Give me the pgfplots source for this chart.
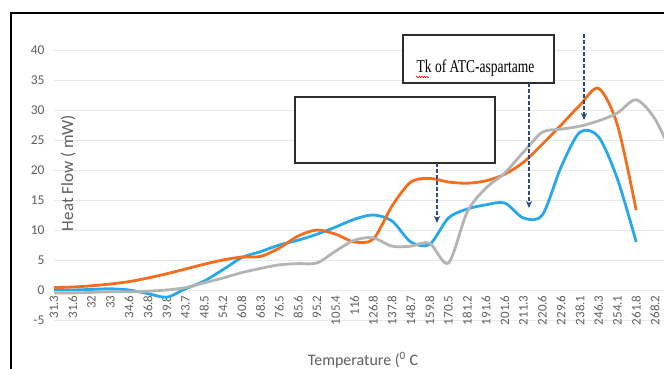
\documentclass[border=0pt]{standalone}
\usepackage{pgfplots}
\pgfplotsset{compat=1.18}
\usepackage{fontspec}
\setmainfont{Carlito}
\newfontfamily\timesfont{Liberation Serif}
\usepackage{graphicx}
\usetikzlibrary{arrows.meta,decorations.pathmorphing}

\definecolor{cblue}{RGB}{38,168,235}
\definecolor{corange}{RGB}{242,110,30}
\definecolor{cgray}{RGB}{180,180,180}
\definecolor{gridgray}{RGB}{232,232,232}
\definecolor{labelgray}{RGB}{95,95,95}
\definecolor{arrowblue}{RGB}{47,75,124}
\definecolor{boxedge}{RGB}{45,45,45}

\begin{document}
\begin{tikzpicture}[x=1pt,y=1pt]
\path[use as bounding box] (0,0) rectangle (664,368);
\clip (0,0) rectangle (664,368);
\fill[white] (0,0) rectangle (664,368);
\begin{axis}[
  at={(54pt,48pt)}, anchor=south west,
  scale only axis, width=610pt, height=270pt,
  xmin=0, xmax=32.48, ymin=-5, ymax=40,
  axis line style={draw=none},
  major tick length=0pt,
  ytick={-5,0,5,10,15,20,25,30,35,40},
  ymajorgrids, grid style={color=gridgray, line width=0.9pt},
  xtick={0,1,...,32},
  xticklabels={31.3,31.6,32,33,34.6,36.8,39.8,43.7,48.5,54.2,60.8,68.3,76.5,85.6,95.2,105.4,116,126.8,137.8,148.7,159.8,170.5,181.2,191.6,201.6,211.3,220.6,229.6,238.1,246.3,254.1,261.8,268.2},
  xticklabel style={yshift=28pt, rotate=90, anchor=east, font=\fontsize{13}{13}\selectfont, text=labelgray},
  yticklabel style={font=\fontsize{13.5}{13.5}\selectfont, text=labelgray, xshift=-6pt},
  /pgf/number format/assume math mode=true,
  every axis plot/.append style={line width=2.8pt, smooth, tension=0.5, no markers},
]
% blue
\addplot[cblue] coordinates {
(0,0) (1,0) (2,0.1) (3,0.2) (4,0) (5,-0.6) (6,-1.2) (7,0.2) (8,1.5) (9,3.4)
(10,5.4) (11,6.4) (12,7.5) (13,8.3) (14,9.3) (15,10.5) (16,11.8) (17,12.5) (18,11.5) (19,8.0)
(20,7.6) (21,12.0) (22,13.5) (23,14.2) (24,14.5) (25,12.0) (26,12.5) (27,20.5) (28,26.3) (29,25.5)
(30,18.5) (31,8.0)};
% orange
\addplot[corange] coordinates {
(0,0.4) (1,0.5) (2,0.7) (3,1.0) (4,1.4) (5,2.0) (6,2.7) (7,3.5) (8,4.3) (9,5.0)
(10,5.5) (11,5.6) (12,7.0) (13,9.0) (14,10.0) (15,9.3) (16,8.0) (17,8.5) (18,14.0) (19,18.0)
(20,18.6) (21,18.0) (22,17.8) (23,18.2) (24,19.3) (25,21.3) (26,24.3) (27,27.5) (28,30.8) (29,33.6)
(30,27.5) (31,13.3)};
% gray
\addplot[cgray] coordinates {
(0,-0.5) (1,-0.5) (2,-0.4) (3,-0.3) (4,-0.3) (5,-0.2) (6,0) (7,0.4) (8,1.2) (9,2.0)
(10,2.9) (11,3.6) (12,4.2) (13,4.4) (14,4.5) (15,6.5) (16,8.3) (17,8.7) (18,7.3) (19,7.3)
(20,7.8) (21,4.5) (22,13.0) (23,17.0) (24,19.5) (25,23.0) (26,26.3) (27,26.8) (28,27.3) (29,28.2)
(30,29.5) (31,31.7) (32,28.5) (33,22.0)};
\end{axis}
% axis titles
\node[rotate=90, text=labelgray, font=\fontsize{17}{17}\selectfont] at (68,195) {Heat Flow ( mW)};
\node[text=labelgray, font=\fontsize{16}{16}\selectfont] at (363,8) {Temperature (\textsuperscript{0} C};
% annotation boxes
\draw[boxedge, line width=1.6pt, fill=white] (295,205) rectangle (495,271);
\draw[boxedge, line width=1.6pt, fill=white] (403,285) rectangle (554,333);
\node at (475.5,300) {\scalebox{0.75}[1]{\timesfont\fontsize{18}{18}\selectfont Tk of ATC-aspartame}};
\draw[red, line width=0.6pt, decorate, decoration={snake, amplitude=0.7pt, segment length=2.5pt}] (416,291) -- (429,291);
% arrows
\draw[arrowblue, line width=1.2pt, dash pattern=on 4pt off 2pt, -{Stealth[length=7pt,width=6pt,inset=2pt]}] (437,205) -- (437,145);
\draw[arrowblue, line width=1.2pt, dash pattern=on 4pt off 2pt, -{Stealth[length=7pt,width=6pt,inset=2pt]}] (529,285) -- (529,160);
\draw[arrowblue, line width=1.2pt, dash pattern=on 4pt off 2pt, -{Stealth[length=7pt,width=6pt,inset=2pt]}] (584,334) -- (584,248);
% outer frame
\draw[black, line width=2pt] (11,-10) -- (11,355) -- (680,355);
\end{tikzpicture}
\end{document}
